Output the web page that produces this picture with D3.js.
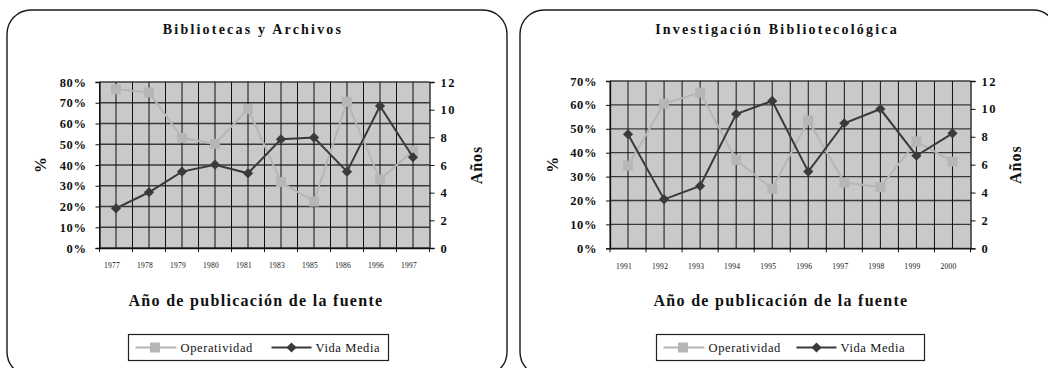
<!DOCTYPE html>
<html><head><meta charset="utf-8">
<script src="https://cdn.jsdelivr.net/npm/d3@7"></script>
<style>
html,body{margin:0;padding:0;background:#fff;}
svg{display:block;}
svg text{font-family:"Liberation Serif","Times New Roman",Times,serif !important;}
</style></head>
<body>
<svg id="c" width="1048" height="368"></svg>
<script>
// ---- Data ----
const titleA = "Bibliotecas y Archivos";
const catsA = ["1977","1978","1979","1980","1981","1983","1985","1986","1996","1997"];
const operA = [0.765, 0.750, 0.531, 0.502, 0.670, 0.318, 0.224, 0.705, 0.330, 0.469];
const vidaA = [2.87, 4.03, 5.52, 6.02, 5.40, 7.86, 7.98, 5.52, 10.27, 6.56];
const pctTicksA = [0, 0.1, 0.2, 0.3, 0.4, 0.5, 0.6, 0.7, 0.8];

const titleB = "Investigación Bibliotecológica";
const catsB = ["1991","1992","1993","1994","1995","1996","1997","1998","1999","2000"];
const operB = [0.346, 0.605, 0.652, 0.370, 0.249, 0.535, 0.275, 0.256, 0.447, 0.363];
const vidaB = [8.18, 3.51, 4.47, 9.63, 10.57, 5.50, 8.97, 9.99, 6.64, 8.25];
const pctTicksB = [0, 0.1, 0.2, 0.3, 0.4, 0.5, 0.6, 0.7];

const yearTicks = [0, 2, 4, 6, 8, 10, 12];
const seriesNames = ["Operatividad", "Vida Media"];
const xTitle = "Año de publicación de la fuente";
const yLeftTitle = "%";
const yRightTitle = "Años";

// ---- Drawing ----
const FONT = "Liberation Serif";
const svg = d3.select("#c");
const OPER_COL = "#b6b6b6", VIDA_COL = "#3a3a3a", BG_COL = "#c9c9c9";

function drawChart(cfg) {
  const g = svg.append("g").attr("font-family", FONT);
  // panel
  g.append("rect").attr("x", cfg.panel[0]).attr("y", cfg.panel[1])
    .attr("width", cfg.panel[2]).attr("height", cfg.panel[3])
    .attr("rx", 24).attr("ry", 24)
    .attr("fill", "#fff").attr("stroke", "#1a1a1a").attr("stroke-width", 1.4);

  const {l, r, t, b} = cfg.plot;
  const x = d3.scaleBand().domain(cfg.cats).range([l, r]);
  const yP = d3.scaleLinear().domain([0, d3.max(cfg.pctTicks)]).range([b, t]);
  const yY = d3.scaleLinear().domain([0, d3.max(yearTicks)]).range([b, t]);

  // plot background
  g.append("rect").attr("x", l).attr("y", t).attr("width", r - l).attr("height", b - t)
    .attr("fill", BG_COL);

  // horizontal gridlines
  g.append("g").selectAll("line").data(cfg.pctTicks).join("line")
    .attr("x1", l).attr("x2", r).attr("y1", d => yP(d)).attr("y2", d => yP(d))
    .attr("stroke", "#3a3a3a").attr("stroke-width", 1.3);

  // vertical gridlines at boundaries and centers
  const vx = [];
  cfg.cats.forEach(c => { vx.push(x(c)); vx.push(x(c) + x.bandwidth() / 2); });
  g.append("g").selectAll("line").data(vx).join("line")
    .attr("x1", d => d).attr("x2", d => d).attr("y1", t).attr("y2", b)
    .attr("stroke", "#111").attr("stroke-width", 1);

  // axes
  const axL = g.append("g").attr("transform", `translate(${l},0)`)
    .call(d3.axisLeft(yP).tickValues(cfg.pctTicks).tickFormat(d3.format(".0%")).tickSizeOuter(0).tickSize(4).tickPadding(9));
  const axR = g.append("g").attr("transform", `translate(${r},0)`)
    .call(d3.axisRight(yY).tickValues(yearTicks).tickSizeOuter(0).tickSize(5).tickPadding(6));
  [axL, axR].forEach(ax => {
    ax.attr("font-family", FONT);
    ax.select(".domain").attr("stroke", "#111").attr("stroke-width", 1.3);
    ax.selectAll(".tick line").attr("stroke", "#111");
    ax.selectAll("text").attr("font-family", FONT)
      .attr("font-size", 12.5).attr("font-weight", "bold").attr("fill", "#111")
      .attr("letter-spacing", "0.6px");
  });
  axR.selectAll("text").attr("letter-spacing", "1.4px");
  const axB = g.append("g").attr("transform", `translate(0,${b})`)
    .call(d3.axisBottom(x).tickSizeOuter(0).tickSize(0).tickPadding(15));
  axB.attr("font-family", FONT);
  axB.select(".domain").attr("stroke", "#111").attr("stroke-width", 1.3);
  axB.selectAll("text").attr("font-family", FONT)
    .attr("font-size", 7.5).attr("fill", "#111").attr("dx", -4).attr("letter-spacing", "0.3px");
  // boundary tick marks
  const bnd = cfg.cats.map(c => x(c)).concat([r]);
  g.append("g").selectAll("line").data(bnd).join("line")
    .attr("x1", d => d).attr("x2", d => d).attr("y1", b).attr("y2", b + 4)
    .attr("stroke", "#111").attr("stroke-width", 1);

  // series lines
  const cx = c => x(c) + x.bandwidth() / 2;
  const lineP = d3.line().x((d, i) => cx(cfg.cats[i])).y(d => yP(d));
  const lineY = d3.line().x((d, i) => cx(cfg.cats[i])).y(d => yY(d));
  g.append("path").attr("d", lineP(cfg.oper)).attr("fill", "none")
    .attr("stroke", OPER_COL).attr("stroke-width", 2);
  g.append("g").selectAll("rect").data(cfg.oper).join("rect")
    .attr("x", (d, i) => cx(cfg.cats[i]) - 5).attr("y", d => yP(d) - 5)
    .attr("width", 10).attr("height", 10).attr("fill", OPER_COL);
  g.append("path").attr("d", lineY(cfg.vida)).attr("fill", "none")
    .attr("stroke", VIDA_COL).attr("stroke-width", 2);
  g.append("g").selectAll("path").data(cfg.vida).join("path")
    .attr("transform", (d, i) => `translate(${cx(cfg.cats[i])},${yY(d)}) rotate(45)`)
    .attr("d", d3.symbol().type(d3.symbolSquare).size(52)).attr("fill", VIDA_COL);

  // titles
  g.append("text").attr("x", cfg.titleX).attr("y", 34).attr("text-anchor", "middle")
    .attr("font-family", FONT)
    .attr("font-size", 14).attr("font-weight", "bold").attr("letter-spacing", "2.2px")
    .attr("fill", "#111").text(cfg.title);
  g.append("text").attr("x", cfg.xTitleX).attr("y", 306).attr("text-anchor", "middle")
    .attr("font-family", FONT)
    .attr("font-size", 16).attr("font-weight", "bold").attr("letter-spacing", "1.3px")
    .attr("fill", "#111").text(xTitle);
  g.append("text").attr("transform", `translate(${cfg.yLX},${(t + b) / 2}) rotate(-90)`)
    .attr("font-family", FONT)
    .attr("text-anchor", "middle").attr("dy", "0.35em")
    .attr("font-size", 16).attr("font-weight", "bold").attr("fill", "#111").text(yLeftTitle);
  g.append("text").attr("transform", `translate(${cfg.yRX},${(t + b) / 2}) rotate(-90)`)
    .attr("font-family", FONT)
    .attr("text-anchor", "middle").attr("dy", "0.35em")
    .attr("font-size", 16).attr("font-weight", "bold").attr("letter-spacing", "1px")
    .attr("fill", "#111").text(yRightTitle);

  // legend
  const [lx, ly, lw, lh] = cfg.legend;
  const lg = g.append("g");
  lg.append("rect").attr("x", lx).attr("y", ly).attr("width", lw).attr("height", lh)
    .attr("fill", "#fff").attr("stroke", "#222").attr("stroke-width", 1.2);
  const my = ly + lh / 2;
  lg.append("line").attr("x1", lx + 7).attr("x2", lx + 48).attr("y1", my).attr("y2", my)
    .attr("stroke", OPER_COL).attr("stroke-width", 2);
  lg.append("rect").attr("x", lx + 26.5 - 5).attr("y", my - 5).attr("width", 10).attr("height", 10)
    .attr("fill", OPER_COL);
  lg.append("text").attr("x", lx + 52).attr("y", my).attr("dy", "0.35em")
    .attr("font-family", FONT)
    .attr("font-size", 12.5).attr("letter-spacing", "0.6px").attr("fill", "#111").text(seriesNames[0]);
  const vx0 = lx + cfg.legendVidaOff;
  lg.append("line").attr("x1", vx0).attr("x2", vx0 + 40).attr("y1", my).attr("y2", my)
    .attr("stroke", VIDA_COL).attr("stroke-width", 2);
  lg.append("path").attr("transform", `translate(${vx0 + 20},${my}) rotate(45)`)
    .attr("d", d3.symbol().type(d3.symbolSquare).size(52)).attr("fill", VIDA_COL);
  lg.append("text").attr("x", vx0 + 44).attr("y", my).attr("dy", "0.35em")
    .attr("font-family", FONT)
    .attr("font-size", 12.5).attr("letter-spacing", "0.6px").attr("fill", "#111").text(seriesNames[1]);
}

drawChart({
  panel: [7, 10, 500, 366],
  plot: {l: 99.5, r: 429.5, t: 82, b: 248},
  cats: catsA, oper: operA, vida: vidaA, pctTicks: pctTicksA,
  title: titleA, titleX: 253, xTitleX: 256, yLX: 40, yRX: 476,
  legend: [128.5, 334.5, 260, 26], legendVidaOff: 143
});
drawChart({
  panel: [520, 10, 537, 366],
  plot: {l: 610, r: 970.5, t: 81, b: 248.3},
  cats: catsB, oper: operB, vida: vidaB, pctTicks: pctTicksB,
  title: titleB, titleX: 777, xTitleX: 781, yLX: 552, yRX: 1015,
  legend: [656.5, 334.5, 268, 26], legendVidaOff: 140
});
</script>
</body></html>
